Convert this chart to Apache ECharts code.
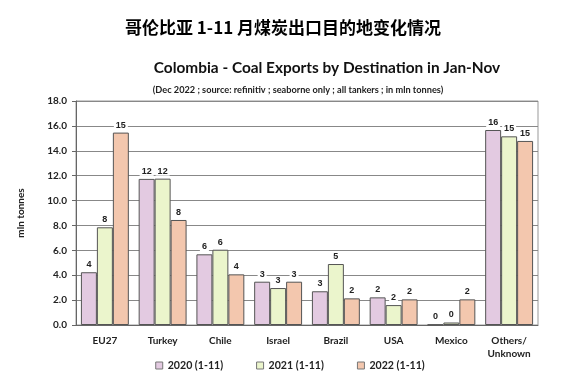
<!DOCTYPE html>
<html><head><meta charset="utf-8">
<script src="https://cdn.jsdelivr.net/npm/echarts@6/dist/echarts.min.js"></script>
<style>html,body{margin:0;padding:0;background:#fff}#c{width:580px;height:384px}</style>
</head><body><div id="c"></div>
<script>
const categories = ['EU27','Turkey','Chile','Israel','Brazil','USA','Mexico','Others/\nUnknown'];
const seriesNames = ['2020 (1-11)','2021 (1-11)','2022 (1-11)'];
const v2020 = [4.24, 11.74, 5.68, 3.48, 2.71, 2.22, 0.03, 15.67];
const v2021 = [7.85, 11.76, 6.05, 2.97, 4.90, 1.60, 0.20, 15.16];
const v2022 = [15.46, 8.44, 4.07, 3.48, 2.14, 2.06, 2.06, 14.79];
const yTicks = [0,2,4,6,8,10,12,14,16,18];
const colors = ['#E3CAE1','#EBF5CC','#F3C7AE'];
const lbl = {show:true, position:'top', distance:3, fontSize:9, fontWeight:'bold', color:'#222',
  fontFamily:'Liberation Sans', backgroundColor:'#fff', padding:[0,2],
  formatter:p=>Math.round(p.value)};
const mk = (name, data, i) => ({name, type:'bar', data, barGap:'0%', barCategoryGap:'17%',
  itemStyle:{color:colors[i], borderColor:'#555', borderWidth:1}, label:lbl});
const chart = echarts.init(document.getElementById('c'));
chart.setOption({
  animation:false,
  title:[
    {text:'哥伦比亚 1-11 月煤炭出口目的地变化情况', left:278, top:14, textAlign:'center',
     textStyle:{fontFamily:'Noto Sans CJK SC', fontWeight:'bold', fontSize:17, color:'#000'}},
    {text:'Colombia - Coal Exports by Destination in Jan-Nov', left:322, top:56, textAlign:'center',
     textStyle:{fontFamily:'Lato', fontWeight:'bold', fontSize:15.4, color:'#111'}},
    {text:'(Dec 2022 ; source: refinitiv ; seaborne only ; all tankers ; in mln tonnes)', left:293, top:81, textAlign:'center',
     textStyle:{fontFamily:'Lato', fontWeight:'bold', fontSize:9.2, color:'#222'}}
  ],
  grid:{left:76, right:42, top:101, bottom:59, show:true, borderColor:'#999', borderWidth:1},
  legend:{bottom:8, left:'center', itemWidth:7, itemHeight:7, itemGap:33, icon:'rect',
    textStyle:{fontFamily:'Lato', fontWeight:'bold', fontSize:10.6, color:'#222'},
    data:seriesNames.map((n,i)=>({name:n, itemStyle:{color:colors[i], borderColor:'#777', borderWidth:1}}))},
  xAxis:{type:'category', data:categories, axisTick:{show:false},
    axisLine:{lineStyle:{color:'#666'}},
    axisLabel:{fontFamily:'Lato', fontWeight:'bold', fontSize:10, color:'#222', margin:9, lineHeight:13, interval:0}},
  yAxis:{type:'value', min:0, max:18, interval:2,
    name:'mln tonnes', nameLocation:'middle', nameGap:50, nameRotate:90,
    nameTextStyle:{fontFamily:'Lato', fontWeight:'bold', fontSize:10, color:'#222'},
    axisLine:{show:true, lineStyle:{color:'#666'}},
    axisTick:{show:true, inside:false, length:4, lineStyle:{color:'#666'}},
    axisLabel:{fontFamily:'Lato', fontWeight:'bold', fontSize:10, color:'#222', margin:9,
      formatter:v=>yTicks.includes(v)?v.toFixed(1):''},
    splitLine:{lineStyle:{color:'#888', width:1}}},
  series:[mk(seriesNames[0], v2020, 0), mk(seriesNames[1], v2021, 1), mk(seriesNames[2], v2022, 2)]
});
</script></body></html>
